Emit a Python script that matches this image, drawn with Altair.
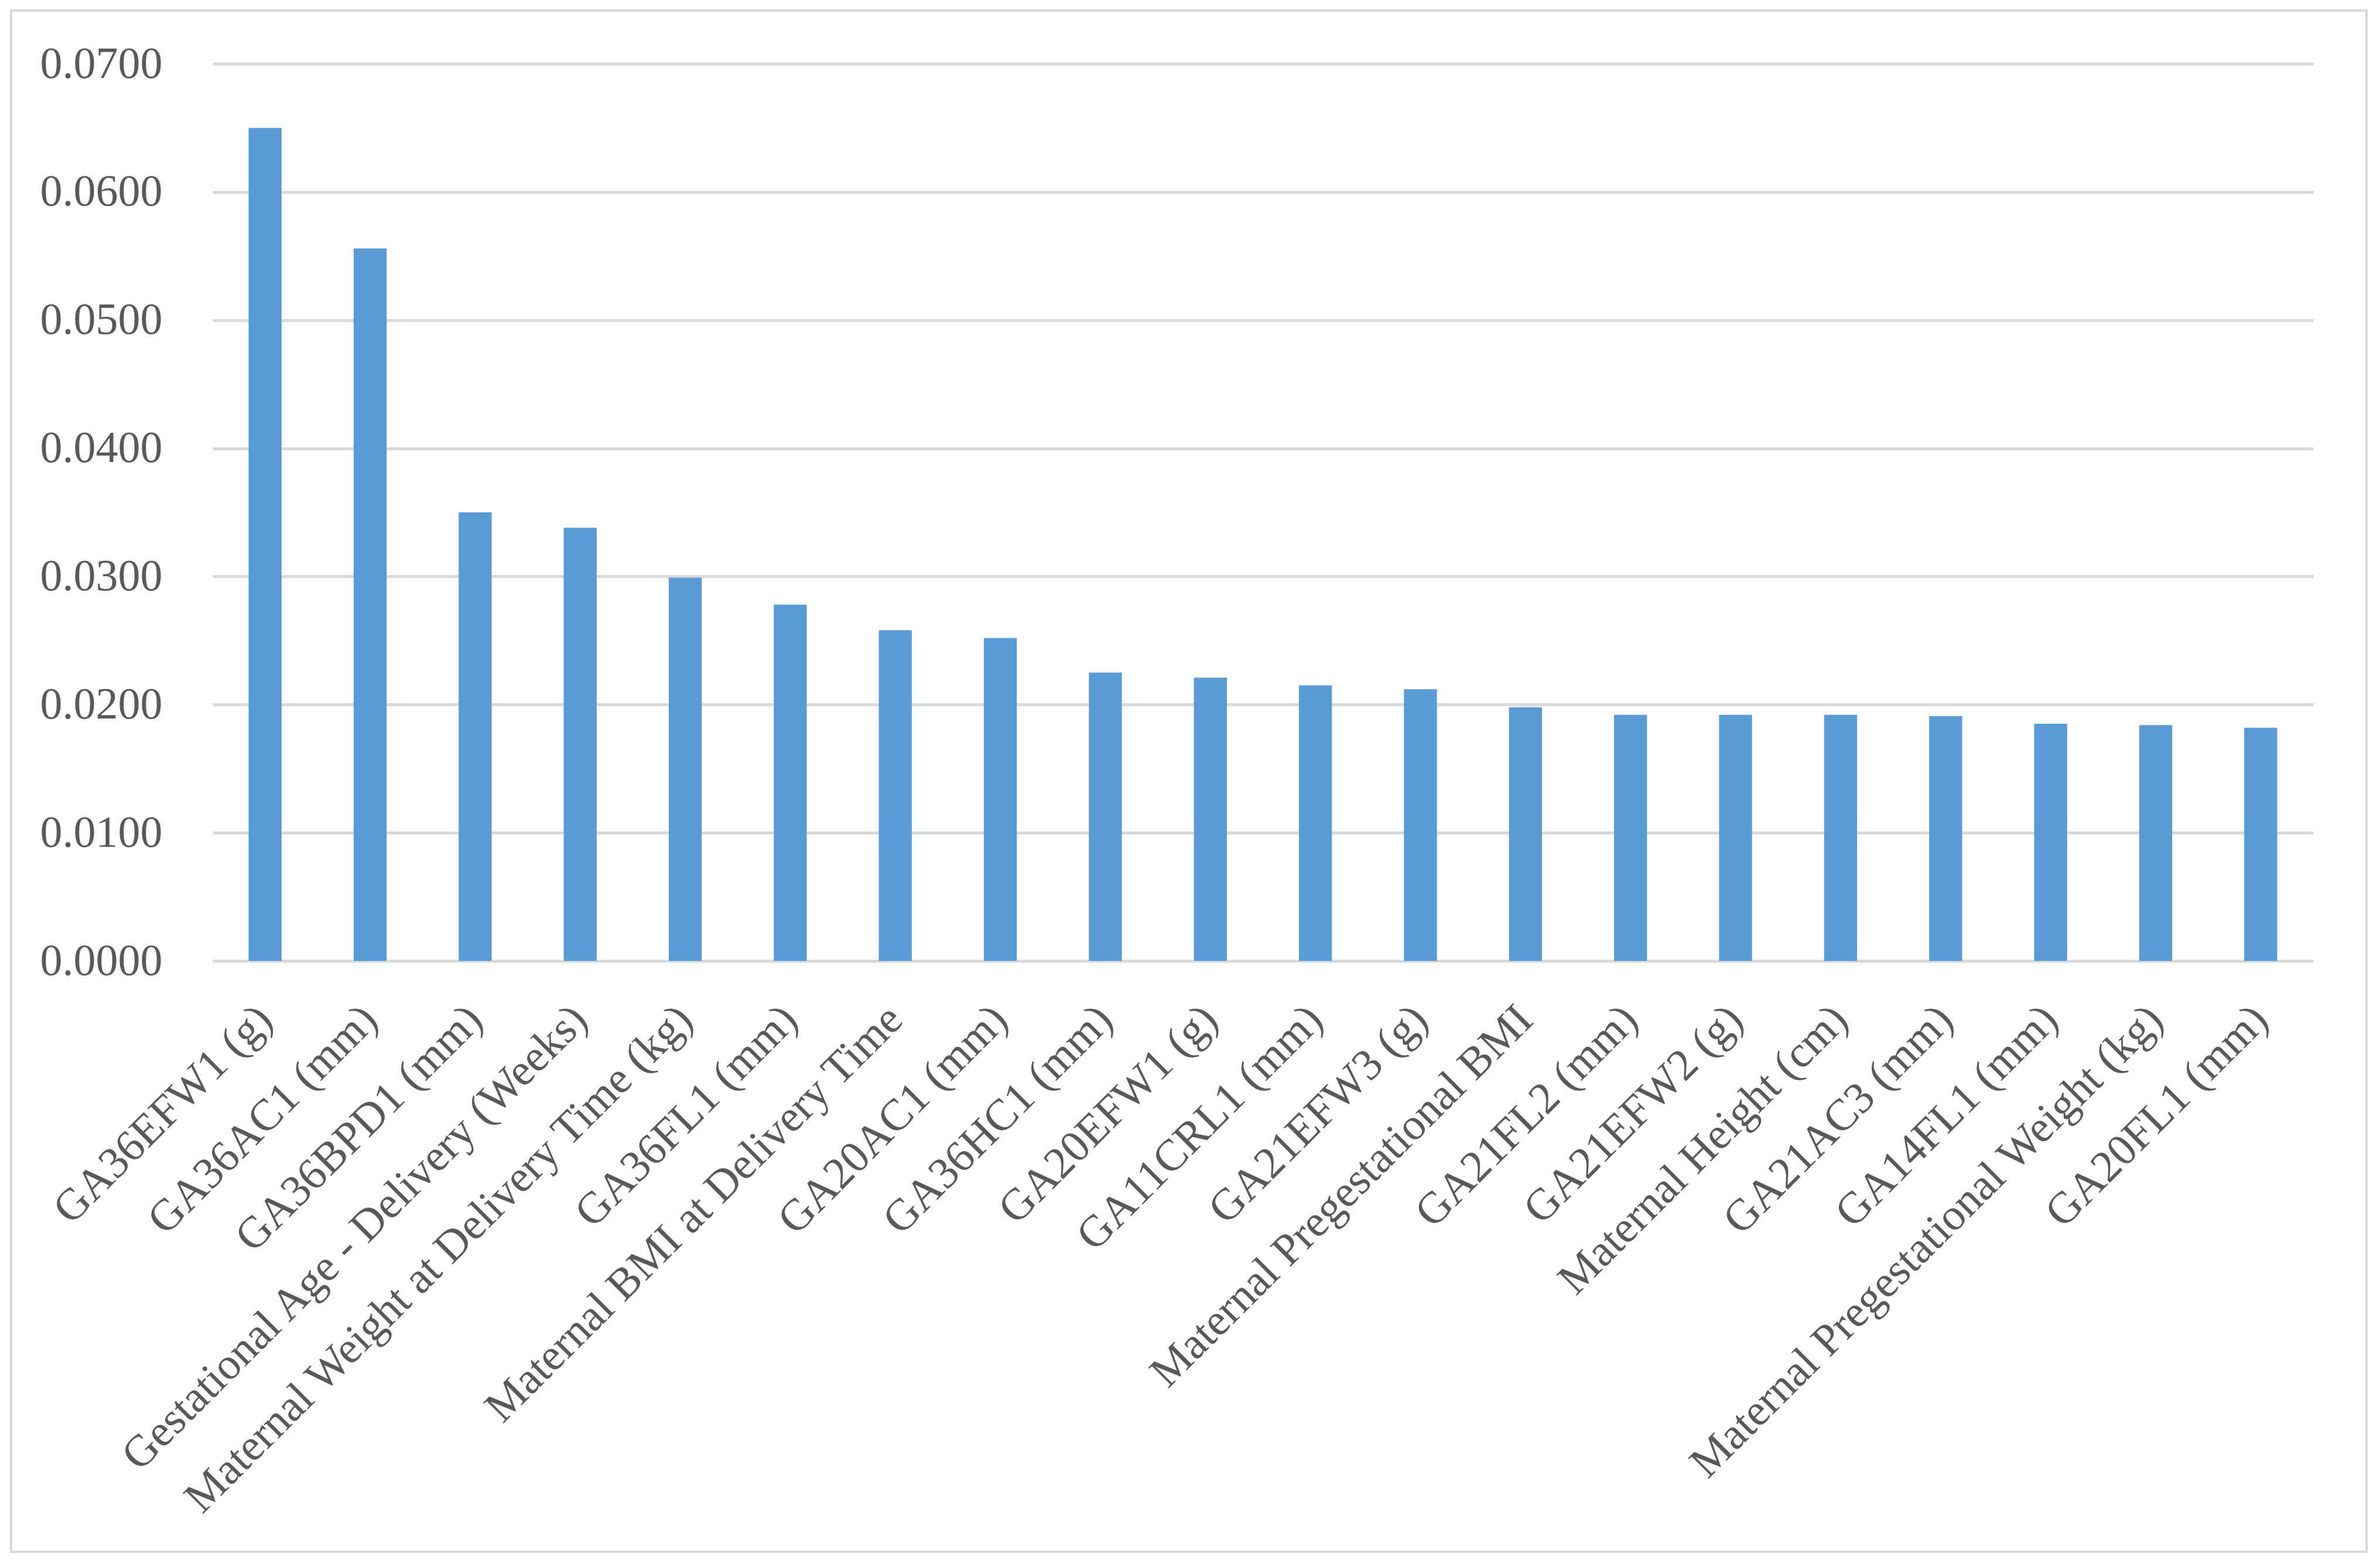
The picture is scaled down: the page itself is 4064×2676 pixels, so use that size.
import altair as alt
import pandas as pd

categories = [
    "GA36EFW1 (g)",
    "GA36AC1 (mm)",
    "GA36BPD1 (mm)",
    "Gestational Age - Delivery (Weeks)",
    "Maternal Weight at Delivery Time (kg)",
    "GA36FL1 (mm)",
    "Maternal BMI at Delivery Time",
    "GA20AC1 (mm)",
    "GA36HC1 (mm)",
    "GA20EFW1 (g)",
    "GA11CRL1 (mm)",
    "GA21EFW3 (g)",
    "Maternal Pregestational BMI",
    "GA21FL2 (mm)",
    "GA21EFW2 (g)",
    "Maternal Height (cm)",
    "GA21AC3 (mm)",
    "GA14FL1 (mm)",
    "Maternal Pregestational Weight (kg)",
    "GA20FL1 (mm)",
]
values = [
    0.0650, 0.0556, 0.0350, 0.0338, 0.0299, 0.0278, 0.0258, 0.0252, 0.0225, 0.0221,
    0.0215, 0.0212, 0.0198, 0.0192, 0.0192, 0.0192, 0.0191, 0.0185, 0.0184, 0.0182,
]
y_ticks = [0.0, 0.01, 0.02, 0.03, 0.04, 0.05, 0.06, 0.07]

df = pd.DataFrame({"feature": categories, "importance": values})

FONT = "Liberation Serif"
TEXT = "#595959"
GRID = "#d9d9d9"

bars = alt.Chart(df).mark_bar(color="#5b9bd5").encode(
    x=alt.X(
        "feature:N",
        sort=None,
        scale=alt.Scale(paddingInner=0.686, paddingOuter=0.343),
        axis=alt.Axis(
            title=None,
            domain=True,
            domainColor=GRID,
            domainWidth=5,
            ticks=False,
            grid=False,
            labelAngle=-45,
            labelAlign="right",
            labelBaseline="middle",
            labelPadding=88,
            labelFont=FONT,
            labelFontSize=76,
            labelColor=TEXT,
            labelLimit=0,
        ),
    ),
    y=alt.Y(
        "importance:Q",
        scale=alt.Scale(domain=[0, 0.07], nice=False),
        axis=alt.Axis(
            title=None,
            values=y_ticks,
            format=".4f",
            domain=False,
            ticks=False,
            grid=True,
            gridColor=GRID,
            gridWidth=5,
            labelPadding=86,
            labelFont=FONT,
            labelFontSize=76,
            labelColor=TEXT,
            labelLimit=0,
        ),
    ),
)

border = alt.Chart(pd.DataFrame({"a": [0]})).mark_rect(
    fillOpacity=0, stroke=GRID, strokeWidth=4
).encode(
    x=alt.value(-344), x2=alt.value(3678), y=alt.value(-91), y2=alt.value(2541)
)

chart = alt.layer(border, bars).properties(
    width=3587,
    height=1532,
    autosize=alt.AutoSizeParams(type="none"),
    padding={"left": 355, "top": 101, "right": 100, "bottom": 1020},
    background="white",
).configure_view(stroke=None)

chart.save("out.html", embed_options={"renderer": "svg", "actions": False})
